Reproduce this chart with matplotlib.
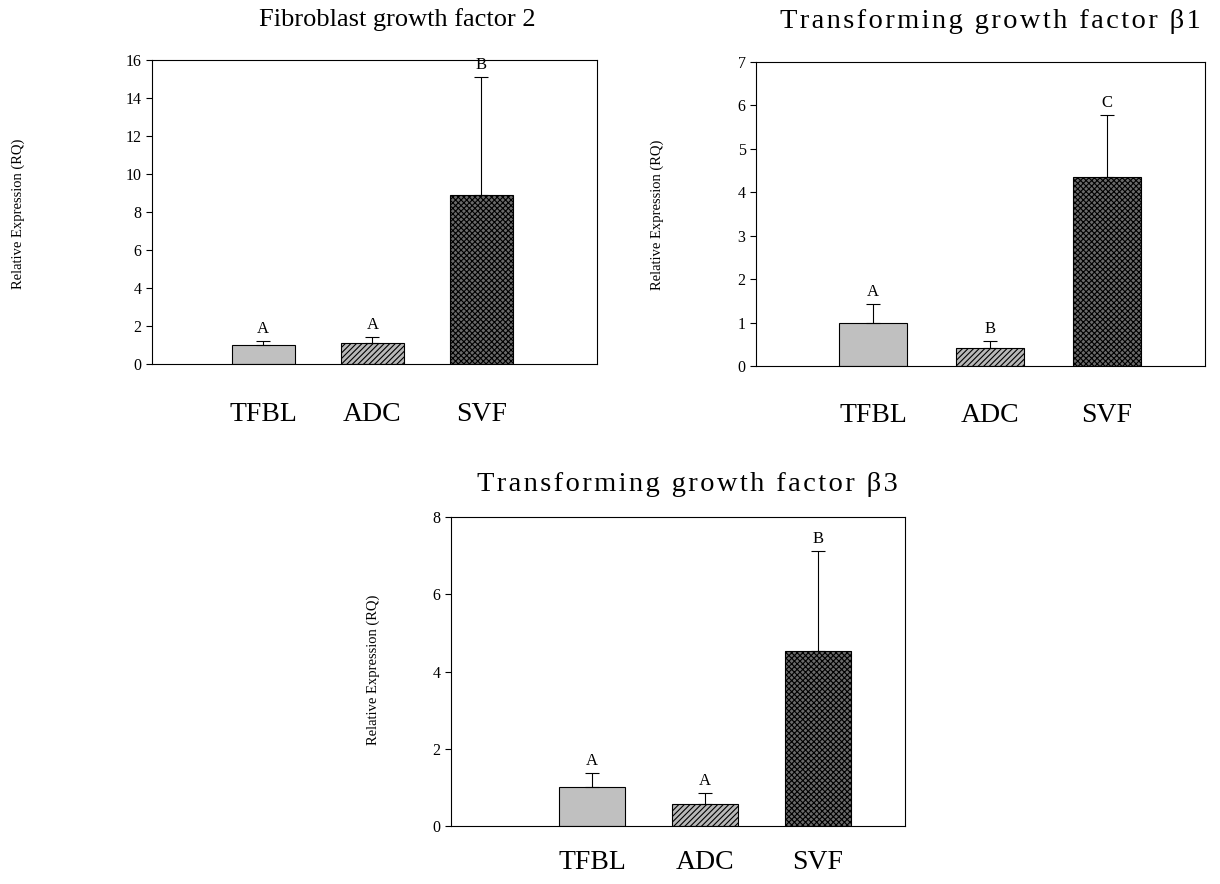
import matplotlib.pyplot as plt

plt.rcParams['font.family'] = ['Liberation Serif', 'DejaVu Serif']
plt.rcParams['hatch.linewidth'] = 0.8

groups = ['TFBL', 'ADC', 'SVF']

fgf2_mean = [1.0, 1.1, 8.9]
fgf2_err = [0.2, 0.32, 6.2]
fgf2_sig = ['A', 'A', 'B']

tgfb1_mean = [1.0, 0.42, 4.36]
tgfb1_err = [0.42, 0.15, 1.42]
tgfb1_sig = ['A', 'B', 'C']

tgfb3_mean = [1.0, 0.57, 4.52]
tgfb3_err = [0.38, 0.28, 2.6]
tgfb3_sig = ['A', 'A', 'B']

faces = ['#c0c0c0', '#b8b8b8', '#6a6a6a']
hatches = [None, '//////', 'xxxxxx']


def spaced(s):
    # loose tracking, as in the TGF titles
    return '\u200a'.join(s)


def bar_panel(ax, means, errs, sigs, ymax, yticks, xlim, lab_pad):
    pos = [1, 2, 3]
    for p, m, e, fc, h in zip(pos, means, errs, faces, hatches):
        ax.bar(p, m, width=0.58, color=fc, edgecolor='black', linewidth=0.8,
               hatch=h, zorder=2)
        ax.errorbar(p, m, yerr=[[0], [e]], fmt='none', ecolor='black',
                    elinewidth=0.8, capsize=5, capthick=0.8, zorder=3)
    for p, m, e, s in zip(pos, means, errs, sigs):
        ax.annotate(s, (p, m + e), xytext=(0, 3), textcoords='offset points',
                    ha='center', va='bottom', fontsize=12)
    ax.set_ylim(0, ymax)
    ax.set_xlim(*xlim)
    ax.set_yticks(yticks)
    ax.tick_params(axis='y', direction='out', length=4, width=0.8, labelsize=11.5)
    ax.set_xticks(pos)
    ax.set_xticklabels(groups, fontsize=20)
    ax.tick_params(axis='x', length=0, pad=lab_pad)
    for sp in ax.spines.values():
        sp.set_linewidth(0.8)


fig = plt.figure(figsize=(12.2, 8.84), dpi=100)

ax1 = fig.add_axes([0.1246, 0.5882, 0.3648, 0.3439])
bar_panel(ax1, fgf2_mean, fgf2_err, fgf2_sig, 16, range(0, 17, 2), (-0.02, 4.06), 27)

ax2 = fig.add_axes([0.6197, 0.5860, 0.3680, 0.3439])
bar_panel(ax2, tgfb1_mean, tgfb1_err, tgfb1_sig, 7, range(0, 8), (0.0, 3.84), 27)

ax3 = fig.add_axes([0.3697, 0.0656, 0.3721, 0.3495])
bar_panel(ax3, tgfb3_mean, tgfb3_err, tgfb3_sig, 8, range(0, 9, 2), (-0.25, 3.77), 17)

# panel titles and y labels
fig.text(397 / 1220, 1 - 20 / 884, 'Fibroblast growth factor 2', fontsize=19,
         ha='center', va='center')
fig.text(990 / 1220, 1 - 22 / 884, spaced('Transforming growth factor \u03b21'),
         fontsize=20.5, ha='center', va='center')
fig.text(687 / 1220, 1 - 484 / 884, spaced('Transforming growth factor \u03b23'),
         fontsize=20.5, ha='center', va='center')

for x, y in [(18, 214), (657, 215), (373, 670)]:
    fig.text(x / 1220, 1 - y / 884, 'Relative Expression (RQ)', fontsize=10.5,
             rotation=90, ha='center', va='center')

plt.savefig('out.png', dpi=100)
plt.close()
